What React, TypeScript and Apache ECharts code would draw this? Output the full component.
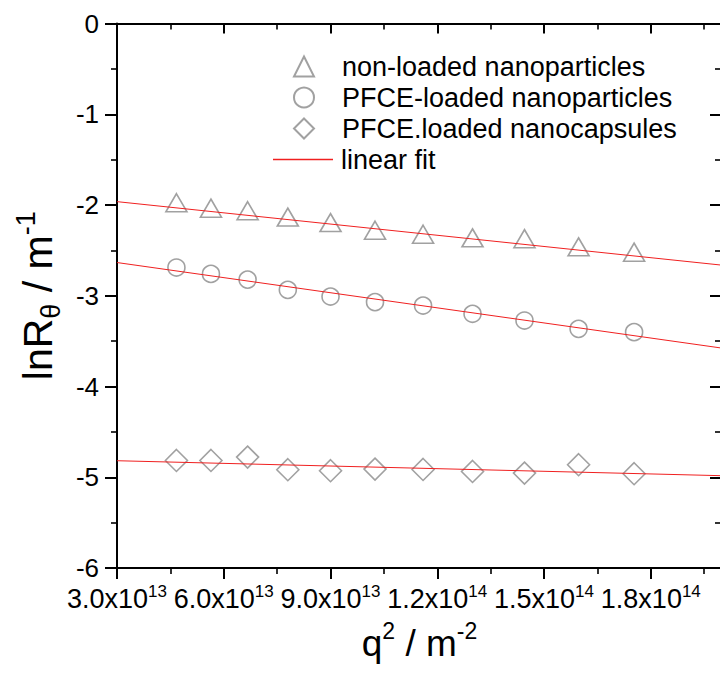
import { useEffect, useRef } from "react";
import * as echarts from "echarts";

// q^2 values (m^-2) shared by all three samples
const qSquared = [4.67e13, 5.64e13, 6.67e13, 7.8e13, 9.0e13, 1.025e14, 1.16e14, 1.299e14, 1.445e14, 1.597e14, 1.753e14];
const nonLoaded = [-1.975, -2.035, -2.063, -2.133, -2.194, -2.278, -2.322, -2.362, -2.371, -2.461, -2.52];
const pfceNano = [-2.689, -2.759, -2.822, -2.935, -3.009, -3.07, -3.108, -3.199, -3.273, -3.365, -3.401];
const pfceCaps = [-4.815, -4.815, -4.778, -4.917, -4.928, -4.91, -4.914, -4.936, -4.954, -4.862, -4.961];

// linear fit end points
const fitX = [3.0e13, 2.0e14];
const fitNonLoaded = [-1.963, -2.663];
const fitPfceNano = [-2.634, -3.577];
const fitPfceCaps = [-4.818, -4.983];

const seriesNames = ["non-loaded nanoparticles", "PFCE-loaded nanoparticles", "PFCE.loaded nanocapsules"];
const fitName = "linear fit";

const FONT = "Arial, 'Liberation Sans', Helvetica, sans-serif";
const MARK = "#8a8a8a";
const RED = "#f02020";

const zip = (xs: number[], ys: number[]) => xs.map((x, i) => [x, ys[i]]);

const sciLabel = (v: number) => {
  const e = Math.floor(Math.log10(v) + 1e-9);
  const m = v / Math.pow(10, e);
  return `${m.toFixed(1)}x10{sup|${e}}`;
};

const X_MIN = 3.0e13;
const X_MAX = 2.0e14;

export default function App() {
  const ref = useRef<HTMLDivElement>(null);
  useEffect(() => {
    const chart = echarts.init(ref.current!, null, { renderer: "svg" });
    const black = { color: "#000", width: 2 };
    const gridRect = { left: 117, right: -2, top: 23.5, bottom: 107, containLabel: false, outerBoundsMode: "none" };
    const scatterStyle = (symbol: string, size: number | number[]) => ({
      type: "scatter",
      symbol,
      symbolSize: size,
      itemStyle: { color: "rgba(0,0,0,0)", borderColor: MARK, borderWidth: 1.6 },
      emphasis: { disabled: true },
    });
    const fitSeries = (ys: number[]) => ({
      type: "line",
      name: fitName,
      data: zip(fitX, ys),
      symbol: "none",
      color: RED,
      lineStyle: { color: RED, width: 1 },
      itemStyle: { color: RED, borderColor: RED },
      emphasis: { disabled: true },
    });
    const legendText = (padLeft: number) => ({
      fontSize: 27,
      fontFamily: FONT,
      color: "#000",
      lineHeight: 20,
      padding: [0, 0, 0, padLeft],
    });

    chart.setOption({
      animation: false,
      backgroundColor: "#fff",
      grid: [
        { ...gridRect },
        { ...gridRect },
      ],
      legend: [
        {
          orient: "vertical",
          left: 293,
          top: 53,
          padding: 0,
          itemWidth: 20,
          itemHeight: 20,
          itemGap: 4,
          data: seriesNames,
          textStyle: legendText(23),
          selectedMode: false,
        },
        {
          orient: "vertical",
          left: 273,
          top: 146,
          padding: 0,
          itemWidth: 60,
          itemHeight: 1.4,
          data: [{ name: fitName, icon: "rect", itemStyle: { color: RED, borderWidth: 0 } }],
          itemStyle: { color: RED, borderWidth: 0 },
          textStyle: legendText(3),
          selectedMode: false,
        },
      ],
      xAxis: [
        {
          type: "value",
          gridIndex: 0,
          position: "bottom",
          min: X_MIN,
          max: X_MAX,
          interval: 3e13,
          axisLine: { show: true, onZero: false, lineStyle: black },
          axisTick: { show: true, inside: false, length: 11, lineStyle: black },
          splitLine: { show: false },
          axisLabel: {
            formatter: sciLabel,
            showMaxLabel: false,
            margin: 15,
            fontSize: 27,
            lineHeight: 32,
            color: "#000",
            fontFamily: FONT,
            rich: { sup: { fontSize: 17, lineHeight: 17, verticalAlign: "top", fontFamily: FONT, color: "#000" } },
          },
          name: "q{sup|2} / m{sup|-2}",
          nameLocation: "middle",
          nameGap: 48,
          nameTextStyle: {
            fontSize: 37,
            lineHeight: 48,
            fontFamily: FONT,
            color: "#000",
            rich: { sup: { fontSize: 23, lineHeight: 23, verticalAlign: "top", fontFamily: FONT, color: "#000" } },
          },
        },
        {
          type: "value",
          gridIndex: 0,
          position: "top",
          min: X_MIN,
          max: X_MAX,
          interval: 3e13,
          axisLine: { show: true, onZero: false, lineStyle: black },
          axisTick: { show: true, inside: true, length: 10, lineStyle: black },
          splitLine: { show: false },
          axisLabel: { show: false },
        },
        {
          type: "value",
          gridIndex: 1,
          position: "bottom",
          min: X_MIN,
          max: X_MAX,
          interval: 1.5e13,
          axisLine: { show: false, onZero: false },
          axisTick: { show: true, inside: false, length: 6, lineStyle: { color: "#000", width: 1.6 } },
          splitLine: { show: false },
          axisLabel: { show: false },
        },
        {
          type: "value",
          gridIndex: 1,
          position: "top",
          min: X_MIN,
          max: X_MAX,
          interval: 1.5e13,
          axisLine: { show: false, onZero: false },
          axisTick: { show: true, inside: true, length: 6, lineStyle: { color: "#000", width: 1.6 } },
          splitLine: { show: false },
          axisLabel: { show: false },
        },
      ],
      yAxis: [
        {
          type: "value",
          gridIndex: 0,
          position: "left",
          min: -6,
          max: 0,
          interval: 1,
          axisLine: { show: true, onZero: false, lineStyle: black },
          axisTick: { show: true, inside: false, length: 12, lineStyle: black },
          minorTick: { show: true, splitNumber: 2, length: 6, lineStyle: { color: "#000", width: 1.6 } },
          splitLine: { show: false },
          axisLabel: { margin: 18, fontSize: 26, color: "#000", fontFamily: FONT },
          name: "lnR{sub|θ} / m{sup|-1}",
          nameLocation: "middle",
          nameGap: 53,
          nameTextStyle: {
            fontSize: 41,
            lineHeight: 52,
            fontFamily: FONT,
            color: "#000",
            rich: {
              sub: { fontSize: 27, lineHeight: 27, verticalAlign: "bottom", fontFamily: FONT, color: "#000" },
              sup: { fontSize: 27, lineHeight: 27, verticalAlign: "top", fontFamily: FONT, color: "#000" },
            },
          },
        },
        {
          type: "value",
          gridIndex: 0,
          position: "right",
          min: -6,
          max: 0,
          interval: 1,
          axisLine: { show: true, onZero: false, lineStyle: black },
          axisTick: { show: true, inside: true, length: 12, lineStyle: black },
          minorTick: { show: true, splitNumber: 2, length: 7, lineStyle: { color: "#000", width: 1.6 } },
          splitLine: { show: false },
          axisLabel: { show: false },
        },
        {
          type: "value",
          gridIndex: 1,
          min: -6,
          max: 0,
          show: false,
        },
      ],
      series: [
        fitSeries(fitNonLoaded),
        fitSeries(fitPfceNano),
        fitSeries(fitPfceCaps),
        { ...scatterStyle("triangle", [21, 18]), name: seriesNames[0], data: zip(qSquared, nonLoaded) },
        { ...scatterStyle("circle", 17), name: seriesNames[1], data: zip(qSquared, pfceNano) },
        { ...scatterStyle("diamond", 22), name: seriesNames[2], data: zip(qSquared, pfceCaps) },
      ],
    });
    return () => chart.dispose();
  }, []);
  return <div ref={ref} style={{ position: "absolute", left: 0, top: 0, width: 720, height: 675 }} />;
}
